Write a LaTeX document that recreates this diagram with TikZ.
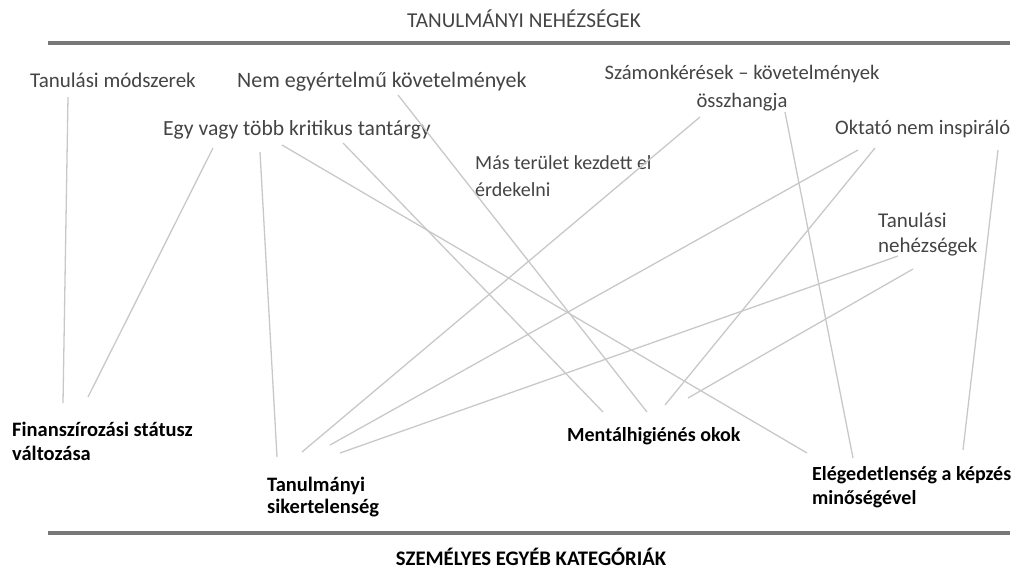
\documentclass[tikz,border=0pt]{standalone}
\usepackage{fontspec}
\setmainfont{Carlito}
\usepackage{xcolor}
\definecolor{textgrey}{RGB}{68,68,68}
\definecolor{linkgrey}{RGB}{200,200,200}
\definecolor{rulegrey}{RGB}{120,120,120}

\begin{document}
\begin{tikzpicture}[
    x=1pt, y=-1pt,
    every node/.style={inner sep=0pt, anchor=base west, align=left},
    difficulty/.style 2 args={text=textgrey, font=\fontsize{#1}{#2}\selectfont},
    category/.style 2 args={text=black, font=\fontsize{#1}{#2}\selectfont\bfseries},
    link/.style={draw=linkgrey, line width=1.3pt},
    rule/.style={draw=rulegrey, line width=3.5pt}
]
\useasboundingbox (0,0) rectangle (1029,571);

% headers and rules
\node[difficulty={21.2}{24}, anchor=base] (tophead) at (524,27) {TANULMÁNYI NEHÉZSÉGEK};
\node[category={20.7}{24}, anchor=base] (bothead) at (531,565) {SZEMÉLYES EGYÉB KATEGÓRIÁK};
\draw[rule] (48,43) -- (1010,43);
\draw[rule] (48,533) -- (1010,533);

% study difficulties
\node[difficulty={21}{26}] (modszer) at (30,87) {Tanulási módszerek};
\node[difficulty={22}{26}] (nemegy) at (237,87) {Nem egyértelmű követelmények};
\node[difficulty={21.6}{26}] (egy) at (163,135) {Egy vagy több kritikus tantárgy};
\node[difficulty={20}{27}] (mas) at (475,196) {Más terület kezdett el\\érdekelni};
\node[difficulty={20.6}{28}, anchor=base, align=center] (szamon) at (742,107) {Számonkérések – követelmények\\összhangja};
\node[difficulty={20.6}{24}] (oktato) at (835,134) {Oktató nem inspiráló};
\node[difficulty={21}{25}] (tannehez) at (878,252) {Tanulási\\nehézségek};

% personal and other categories
\node[category={20.5}{24}] (finansz) at (12,460) {Finanszírozási státusz\\változása};
\node[category={20.5}{22}] (sikertelen) at (267,513) {Tanulmányi\\sikertelenség};
\node[category={20}{24}] (mental) at (567,441) {Mentálhigiénés okok};
\node[category={20}{24}] (eleged) at (812,504) {Elégedetlenség a képzés\\minőségével};

% links
\draw[link] ([shift={(38,10)}]modszer.base west) -- ([shift={(51,-57)}]finansz.base west);
\draw[link] ([shift={(50,13)}]egy.base west) -- ([shift={(76,-63)}]finansz.base west);
\draw[link] ([shift={(97,17)}]egy.base west) -- ([shift={(10,-56)}]sikertelen.base west);
\draw[link] ([shift={(119,10)}]egy.base west) -- ([shift={(-5,-51)}]eleged.base west);
\draw[link] ([shift={(180,8)}]egy.base west) -- ([shift={(36,-29)}]mental.base west);
\draw[link] ([shift={(161,8)}]nemegy.base west) -- ([shift={(80,-29)}]mental.base west);
\draw[link] ([shift={(-42,10)}]szamon.base) -- ([shift={(35,-61)}]sikertelen.base west);
\draw[link] ([shift={(43,5)}]szamon.base) -- ([shift={(41,-46)}]eleged.base west);
\draw[link] ([shift={(23,16)}]oktato.base west) -- ([shift={(63,-68)}]sikertelen.base west);
\draw[link] ([shift={(40,14)}]oktato.base west) -- ([shift={(98,-36)}]mental.base west);
\draw[link] ([shift={(163,16)}]oktato.base west) -- ([shift={(151,-54)}]eleged.base west);
\draw[link] ([shift={(20,4)}]tannehez.base west) -- ([shift={(73,-60)}]sikertelen.base west);
\draw[link] ([shift={(35,17)}]tannehez.base west) -- ([shift={(121,-43)}]mental.base west);
\end{tikzpicture}
\end{document}
